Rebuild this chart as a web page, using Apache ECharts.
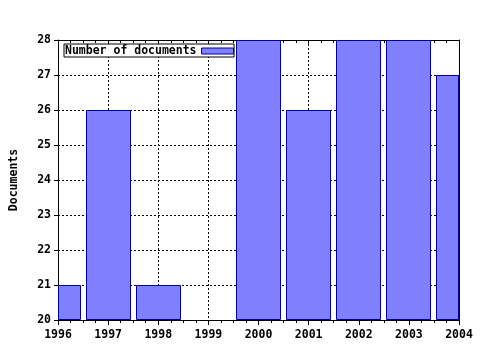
<!DOCTYPE html>
<html>
<head>
<meta charset="utf-8">
<script src="https://cdn.jsdelivr.net/npm/echarts@6/dist/echarts.min.js"></script>
<style>
html,body{margin:0;padding:0;background:#fff;}
#chart{width:480px;height:350px;}
</style>
</head>
<body>
<div id="chart"></div>
<script>
const years = [1996, 1997, 1998, 1999, 2000, 2001, 2002, 2003, 2004];
const documents = [21, 26, 21, 20, 28, 26, 28, 28, 27];
const seriesName = 'Number of documents';
const yAxisTitle = 'Documents';

const FONT = '"DejaVu Sans Mono", monospace';
const BAR_FILL = '#8080ff';
const BAR_EDGE = '#0000a0';
const BAR_FRACTION = 0.9;
const Y_MIN = 20, Y_MAX = 28;

const chart = echarts.init(document.getElementById('chart'), null, {renderer: 'canvas'});
const dotted = {show: true, lineStyle: {color: '#000', width: 1, type: [2, 2]}};

function renderBar(params, api) {
  const x = api.value(0), v = api.value(1);
  const p0 = api.coord([x - BAR_FRACTION / 2, v]);
  const p1 = api.coord([x + BAR_FRACTION / 2, Y_MIN]);
  const rect = echarts.graphic.clipRectByRect(
    {x: p0[0], y: p0[1], width: p1[0] - p0[0], height: p1[1] - p0[1]},
    {x: params.coordSys.x, y: params.coordSys.y, width: params.coordSys.width, height: params.coordSys.height}
  );
  if (!rect || rect.height <= 0 || rect.width <= 0) return null;
  const x0 = Math.round(rect.x) + 0.5, x1 = Math.round(rect.x + rect.width) - 0.5;
  const y0 = Math.round(rect.y) + 0.5, y1 = Math.round(rect.y + rect.height) - 0.5;
  return {
    type: 'rect',
    shape: {x: x0, y: y0, width: x1 - x0, height: y1 - y0},
    style: {fill: BAR_FILL, stroke: BAR_EDGE, lineWidth: 1}
  };
}

chart.setOption({
  animation: false,
  backgroundColor: '#fff',
  grid: {left: 57, right: 21, top: 40, bottom: 30},
  legend: {
    show: true,
    z: 1,
    left: 64, top: 44,
    align: 'right',
    icon: 'rect',
    itemWidth: 32, itemHeight: 6,
    padding: [1, 0, 0, 1],
    backgroundColor: '#fff',
    borderColor: '#000', borderWidth: 1,
    itemStyle: {color: BAR_FILL, borderColor: BAR_EDGE, borderWidth: 1},
    textStyle: {fontFamily: FONT, fontWeight: 'bold', fontSize: 11.5, color: '#000'},
    data: [seriesName]
  },
  xAxis: [{
    type: 'value', position: 'bottom', min: 1996, max: 2004, interval: 1,
    axisLine: {show: true, lineStyle: {color: '#000', width: 1}},
    axisTick: {show: true, length: 5, lineStyle: {color: '#000'}},
    minorTick: {show: true, splitNumber: 4, length: 3, lineStyle: {color: '#000'}},
    axisLabel: {show: true, margin: 9, color: '#000', fontFamily: FONT, fontWeight: 'bold', fontSize: 11.5, formatter: v => String(v)},
    splitLine: dotted
  }, {
    type: 'value', position: 'top', min: 1996, max: 2004, interval: 1,
    axisLine: {show: true, lineStyle: {color: '#000', width: 1}},
    axisTick: {show: true, inside: true, length: 5, lineStyle: {color: '#000'}},
    minorTick: {show: true, splitNumber: 4, length: 3, lineStyle: {color: '#000'}},
    axisLabel: {show: false},
    splitLine: {show: false}
  }],
  yAxis: [{
    type: 'value', position: 'left', min: Y_MIN, max: Y_MAX, interval: 1,
    name: yAxisTitle, nameLocation: 'middle', nameGap: 38, nameRotate: 90,
    nameTextStyle: {fontFamily: FONT, fontWeight: 'bold', fontSize: 11.5, color: '#000'},
    axisLine: {show: true, lineStyle: {color: '#000', width: 1}},
    axisTick: {show: true, length: 4, lineStyle: {color: '#000'}},
    axisLabel: {show: true, margin: 7, color: '#000', fontFamily: FONT, fontWeight: 'bold', fontSize: 11.5},
    splitLine: dotted
  }, {
    type: 'value', position: 'right', min: Y_MIN, max: Y_MAX, interval: 1,
    axisLine: {show: true, lineStyle: {color: '#000', width: 1}},
    axisTick: {show: true, inside: true, length: 4, lineStyle: {color: '#000'}},
    axisLabel: {show: false},
    splitLine: {show: false}
  }],
  series: [{
    name: seriesName,
    type: 'custom',
    z: 2,
    xAxisIndex: 0, yAxisIndex: 0,
    renderItem: renderBar,
    clip: true,
    itemStyle: {color: BAR_FILL, borderColor: BAR_EDGE, borderWidth: 1},
    encode: {x: 0, y: 1},
    data: years.map((y, i) => [y, documents[i]])
  }]
});
</script>
</body>
</html>
